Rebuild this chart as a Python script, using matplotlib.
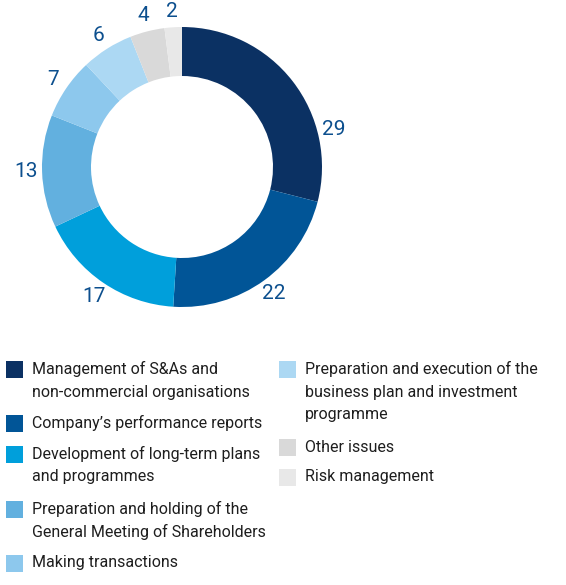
import matplotlib
matplotlib.use("Agg")
import matplotlib.pyplot as plt
import numpy as np
from matplotlib import font_manager
from matplotlib.patches import Rectangle

names = {f.name for f in font_manager.fontManager.ttflist}
FONT = "Liberation Sans Narrow" if "Liberation Sans Narrow" in names else "Roboto"
plt.rcParams['font.family'] = [FONT, 'DejaVu Sans']

categories = [
    "Management of S&As and\nnon-commercial organisations",
    "Company’s performance reports",
    "Development of long-term plans\nand programmes",
    "Preparation and holding of the\nGeneral Meeting of Shareholders",
    "Making transactions",
    "Preparation and execution of the\nbusiness plan and investment\nprogramme",
    "Other issues",
    "Risk management",
]
values = [29, 22, 17, 13, 7, 6, 4, 2]
colors = ["#0b3163", "#015597", "#009fdb", "#62b0df", "#8dc8ed", "#acd8f3", "#d9d9d9", "#e8e8e8"]
label_color = "#0c4f8e"
text_color = "#1e1e1e"

W, H = 566, 585
fig = plt.figure(figsize=(W / 100, H / 100), dpi=100)

cx, cy, half = 182, 167, 175
ax = fig.add_axes([(cx - half) / W, (H - cy - half) / H, 2 * half / W, 2 * half / H])
R = 140
wedges, _ = ax.pie(values, colors=colors, startangle=90, counterclock=False,
                   radius=R, wedgeprops=dict(width=R * 0.35, linewidth=0))
ax.set_xlim(-half, half)
ax.set_ylim(-half, half)
ax.set_aspect('equal')
ax.axis('off')

angle_shift = [-24, 0, 0, 0, 0, 0, 0, 0]
total = sum(values)
cum = 0
for v, s in zip(values, angle_shift):
    mid = 90 - (cum + v / 2) / total * 360 + s
    cum += v
    r = 156
    ax.text(r * np.cos(np.radians(mid)), r * np.sin(np.radians(mid)), str(v),
            ha='center', va='center', fontsize=15, color=label_color)

# legend
line_h = 23
col_x = [6, 279]
sq = 17
layout = [(0, 369), (0, 423), (0, 454), (0, 509), (0, 563), (1, 369), (1, 447), (1, 477)]
for (col, y), lab, c in zip(layout, categories, colors):
    x = col_x[col]
    fig.patches.append(Rectangle((x / W, (H - y - sq / 2) / H), sq / W, sq / H,
                                 transform=fig.transFigure, facecolor=c, edgecolor='none'))
    for i, line in enumerate(lab.split("\n")):
        fig.text((x + 26) / W, (H - y - i * line_h) / H, line, ha='left', va='center',
                 fontsize=11.5, color=text_color)

fig.savefig("out.png", dpi=100)
